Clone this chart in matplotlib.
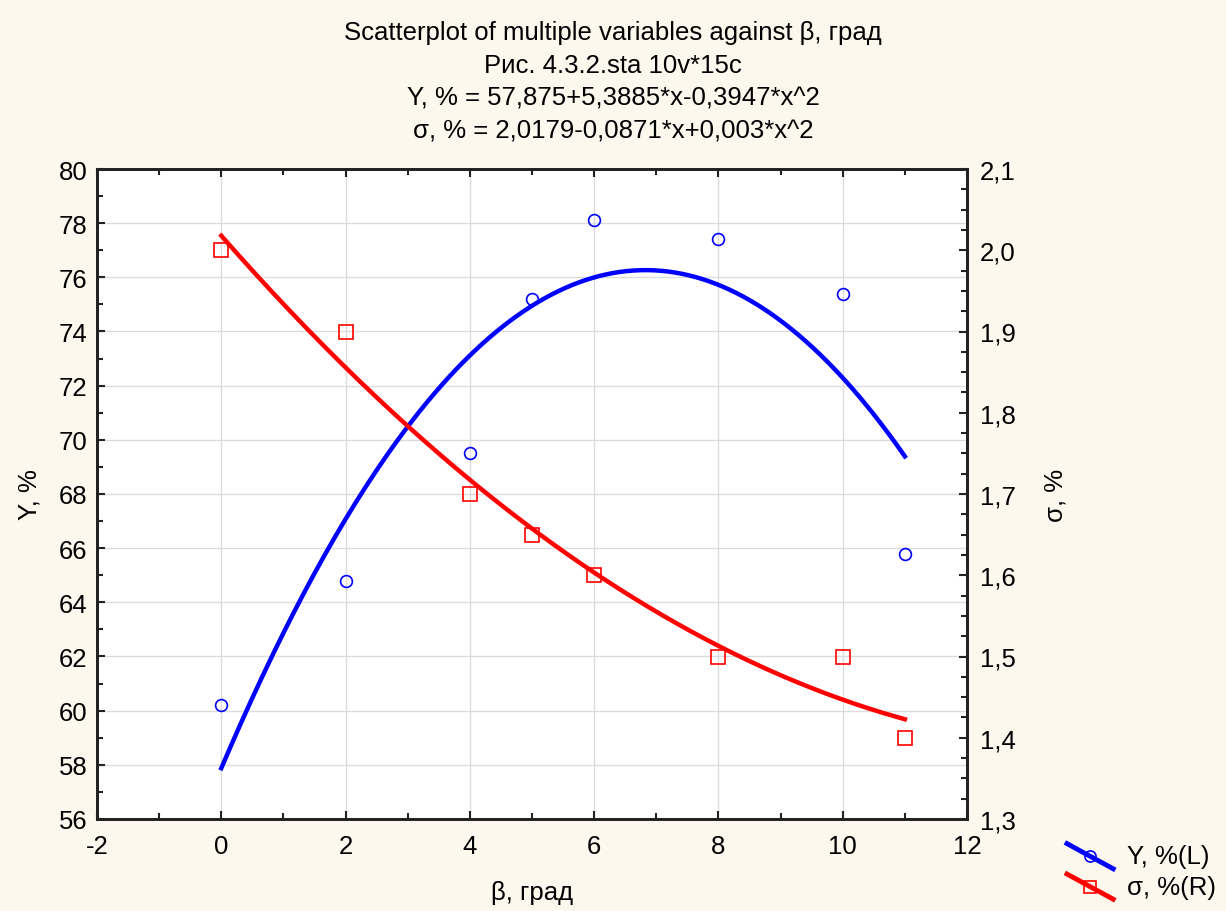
import matplotlib
matplotlib.use("Agg")
import matplotlib.pyplot as plt
import numpy as np
from matplotlib.lines import Line2D
from matplotlib.legend_handler import HandlerLine2D
from matplotlib.ticker import MultipleLocator, FuncFormatter

plt.rcParams['font.family'] = ['Liberation Sans', 'DejaVu Sans']
plt.rcParams['axes.unicode_minus'] = False

# данные
beta = [0, 2, 4, 5, 6, 8, 10, 11]
y_vals = [60.2, 64.8, 69.5, 75.2, 78.1, 77.4, 75.4, 65.8]
sigma_vals = [2.0, 1.9, 1.7, 1.65, 1.6, 1.5, 1.5, 1.4]

# коэффициенты квадратичной аппроксимации (из заголовка)
y_coef = [57.875, 5.3885, -0.3947]
sigma_coef = [2.0179, -0.0871, 0.003]

title_lines = [
    "Scatterplot of multiple variables against β, град",
    "Рис. 4.3.2.sta 10v*15c",
    "Y, % = 57,875+5,3885*x-0,3947*x^2",
    "σ, % = 2,0179-0,0871*x+0,003*x^2",
]

FS = 18.5


class DiagonalHandler(HandlerLine2D):
    # линия в легенде идёт по диагонали, маркер в центре
    def create_artists(self, legend, orig_handle, xdescent, ydescent,
                       width, height, fontsize, trans):
        x0, x1 = -xdescent, -xdescent + width
        y0, y1 = -ydescent + height * 1.1, -ydescent - height * 0.3
        line = Line2D([x0, x1], [y0, y1], color=orig_handle.get_color(),
                      lw=orig_handle.get_linewidth(), transform=trans)
        mk = Line2D([(x0 + x1) / 2], [(y0 + y1) / 2],
                    marker=orig_handle.get_marker(), ms=orig_handle.get_markersize(),
                    mfc='none', mec=orig_handle.get_color(), mew=1.2,
                    ls='none', transform=trans)
        return [line, mk]


fig = plt.figure(figsize=(12.26, 9.12), dpi=100, facecolor='#fdf8ee')
ax = fig.add_axes([97 / 1226, 1 - 820 / 912, 870 / 1226, 650 / 912])
ax.set_facecolor('white')
ax2 = ax.twinx()

xs = np.linspace(0, 11, 200)
y_fit = y_coef[0] + y_coef[1] * xs + y_coef[2] * xs ** 2
s_fit = sigma_coef[0] + sigma_coef[1] * xs + sigma_coef[2] * xs ** 2

ax.plot(xs, y_fit, color='#0000ff', lw=3.2, zorder=3)
ax.plot(beta, y_vals, 'o', ms=8.5, mfc='none', mec='#0000ff', mew=1.2, zorder=4)
ax2.plot(xs, s_fit, color='#ff0000', lw=3.2, zorder=3)
ax2.plot(beta, sigma_vals, 's', ms=9.5, mfc='none', mec='#ff0000', mew=1.2, zorder=4)

ax.set_xlim(-2, 12)
ax.set_ylim(56, 80)
ax2.set_ylim(1.3, 2.1)

ax.xaxis.set_major_locator(MultipleLocator(2))
ax.xaxis.set_minor_locator(MultipleLocator(1))
ax.yaxis.set_major_locator(MultipleLocator(2))
ax.yaxis.set_minor_locator(MultipleLocator(1))
ax2.yaxis.set_major_locator(MultipleLocator(0.1))
ax2.yaxis.set_minor_locator(MultipleLocator(0.025))
ax2.yaxis.set_major_formatter(FuncFormatter(lambda v, p: f"{v:.1f}".replace('.', ',')))

ax.grid(True, which='major', color='#dcdcdc', lw=1)
ax.set_axisbelow(True)

for a in (ax, ax2):
    a.tick_params(which='both', direction='in', labelsize=FS, color='#222222')
    a.tick_params(which='major', length=6, width=1.5)
    a.tick_params(which='minor', length=4, width=1.5)
    for sp in a.spines.values():
        sp.set_linewidth(2)
        sp.set_color('#222222')
ax.tick_params(axis='x', which='both', top=True, pad=11)
ax.tick_params(axis='y', pad=7)
ax2.tick_params(axis='y', pad=9)

ax.set_xlabel("β, град", fontsize=FS, labelpad=16)
ax.set_ylabel("Y, %", fontsize=FS, labelpad=12)
ax2.set_ylabel("σ, %", fontsize=FS, labelpad=20)

fig.text(0.5, 1 - 21 / 912, "\n".join(title_lines), ha='center', va='top',
         fontsize=FS, linespacing=1.47)

h1 = Line2D([], [], color='#0000ff', lw=3.5, marker='o', ms=8)
h2 = Line2D([], [], color='#ff0000', lw=3.5, marker='s', ms=9)
fig.legend([h1, h2], ["Y, %(L)", "σ, %(R)"],
           handler_map={Line2D: DiagonalHandler()},
           loc='lower right', bbox_to_anchor=(1.011, -0.012),
           frameon=False, fontsize=FS, handlelength=1.8,
           handletextpad=0.55, labelspacing=0.25)

fig.savefig("out.png", dpi=100, facecolor=fig.get_facecolor())
